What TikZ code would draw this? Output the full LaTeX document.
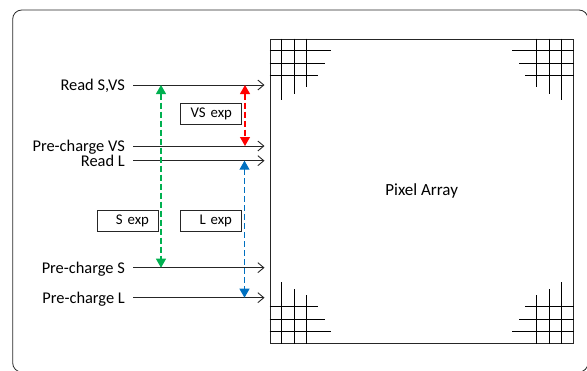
\documentclass[tikz,border=0pt]{standalone}
\usepackage{fontspec}
\setmainfont{Carlito}
\usetikzlibrary{arrows.meta,calc}
\definecolor{sgreen}{RGB}{0,176,80}
\definecolor{sred}{RGB}{255,0,0}
\definecolor{sblue}{RGB}{0,112,192}
\definecolor{framegray}{RGB}{40,40,40}
\begin{document}
\begin{tikzpicture}[x=1pt,y=-1pt,
  lbl/.style={anchor=east, inner xsep=0pt, inner ysep=0pt, text height=10.6pt, text depth=0pt, font=\fontsize{16.4}{19}\selectfont},
  sig/.style={draw=black!85, line width=0.9pt, -{Straight Barb[length=6pt,width=10pt]}, shorten <=8pt, shorten >=5pt},
  expbox/.style={draw=black!85, line width=0.8pt, minimum height=21pt, text width=42.7pt, align=right, inner xsep=9pt, inner ysep=0pt, font=\fontsize{14.8}{17}\selectfont},
  span/.style={line width=1.1pt, dash pattern=on 6pt off 3pt, {Triangle[width=10pt,length=9pt]}-{Triangle[width=10pt,length=9pt]}},
  gridline/.style={draw=black, line width=1pt}
]
\useasboundingbox (0,0) rectangle (587,370);
% outer frame
\draw[rounded corners=9pt, draw=framegray, line width=0.8pt] (12.7,10) rectangle (588,372);

% pixel array
\node[draw=black!85, line width=1pt, minimum width=303.3pt, minimum height=304.3pt, inner sep=0pt, font=\fontsize{17}{20}\selectfont] (pa) at (421.65,191.15) {Pixel Array};

% corner grids
\foreach \i/\L in {1/61.5, 2/55, 3/48.5} {
  \draw[gridline] ($(pa.north west)+(0,{\i*12.3})$) -- ++(\L,0);
  \draw[gridline] ($(pa.north west)+({\i*12.3},0)$) -- ++(0,\L);
  \draw[gridline] ($(pa.north east)+(0,{\i*12.3})$) -- ++(-\L,0);
  \draw[gridline] ($(pa.north east)+({-\i*12.3},0)$) -- ++(0,\L);
  \draw[gridline] ($(pa.south west)+(0,{-\i*12.3})$) -- ++(\L,0);
  \draw[gridline] ($(pa.south west)+({\i*12.3},0)$) -- ++(0,-\L);
  \draw[gridline] ($(pa.south east)+(0,{-\i*12.3})$) -- ++(-\L,0);
  \draw[gridline] ($(pa.south east)+({-\i*12.3},0)$) -- ++(0,-\L);
}

% signal labels
\node[lbl] (l1) at (125,85) {Read S,VS};
\node[lbl] (l2) at (125,146) {Pre-charge VS};
\node[lbl] (l3) at (125,160.7) {Read L};
\node[lbl] (l4) at (125,267.7) {Pre-charge S};
\node[lbl] (l5) at (125,297.7) {Pre-charge L};

% signal lines
\foreach \n in {l1,l2,l3,l4,l5} {
  \draw[sig] (\n.east) -- (\n.east -| pa.west);
}

% span coordinates
\path (l1.east) ++(36,0) coordinate (gA);
\path (l4.east) ++(36,0) coordinate (gB);
\path (l1.east) ++(120,0) coordinate (rA);
\path (l2.east) ++(120,0) coordinate (rB);
\path (l3.east) ++(119.5,0) coordinate (bA);
\path (l5.east) ++(119.5,0) coordinate (bB);

\draw[span, sgreen] (gA) -- (gB);
\draw[span, sred] (rA) -- (rB);
\draw[span, sblue] (bA) -- (bB);

% exposure boxes
\node[expbox] (vsexp) at (210.65,113.8) {VS exp};
\node[expbox] (sexp) at (127.65,220.5) {S exp};
\node[expbox] (lexp) at (210.65,220.5) {L exp};
\end{tikzpicture}
\end{document}
